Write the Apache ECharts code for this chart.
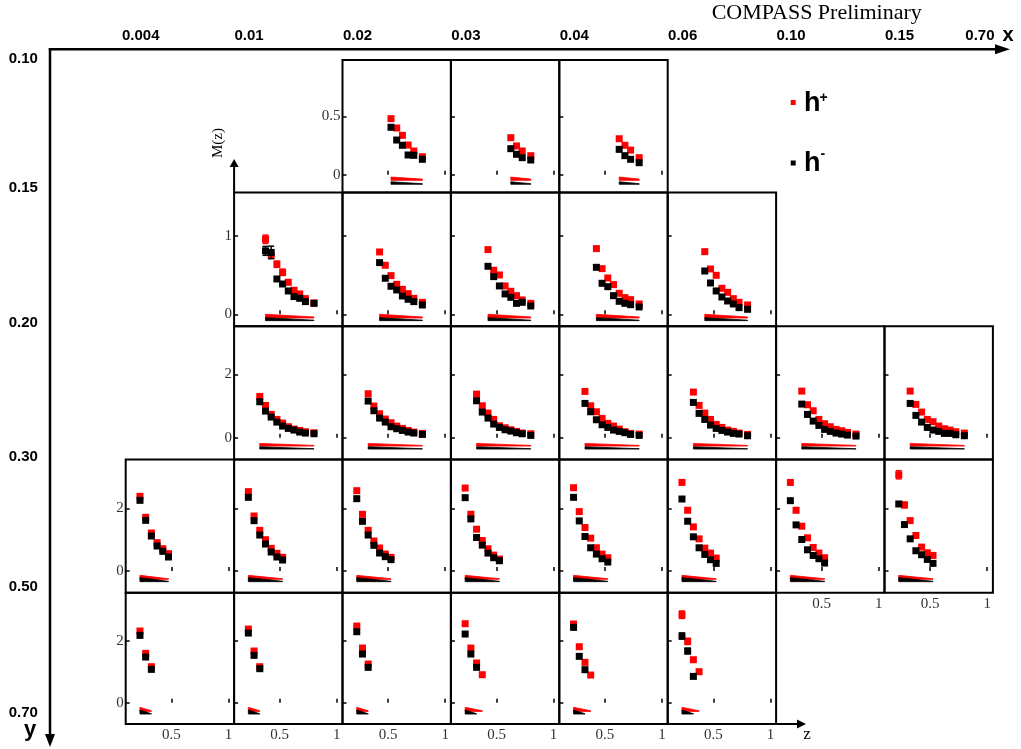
<!DOCTYPE html>
<html><head><meta charset="utf-8">
<script src="https://cdn.jsdelivr.net/npm/echarts@6/dist/echarts.min.js"></script>
<style>html,body{margin:0;padding:0;background:#fff}#c{width:1021px;height:749px}</style>
</head><body><div id="c"></div>
<script>
// ---------------- data ----------------
const zBins = [0.225,0.275,0.325,0.375,0.425,0.475,0.525,0.575,0.625,0.675,0.725,0.8];
const zTicks = [0.5, 1];
const xBinLabels = ['0.004','0.01','0.02','0.03','0.04','0.06','0.10','0.15','0.70'];
const yBinLabels = ['0.10','0.15','0.20','0.30','0.50','0.70'];
const yTickValues = [[0,0.5],[0,1],[0,2],[0,2],[0,2]];
const _ = null;
// one entry per x bin (null = no panel); values aligned with zBins
// y: 0.10-0.15
const hPlus_y1 = [null,null,
 [_,_,_,_,_,_,0.48,0.40,0.337,0.254,0.203,0.154],
 [_,_,_,_,_,_,_,_,0.317,0.246,0.203,0.163],
 [_,_,_,_,_,_,_,_,0.308,0.252,0.211,0.146],
 null,null,null];
const hMinus_y1 = [null,null,
 [_,_,_,_,_,_,0.406,0.297,0.252,0.169,0.166,0.132],
 [_,_,_,_,_,_,_,_,0.223,0.175,0.146,0.126],
 [_,_,_,_,_,_,_,_,0.217,0.163,0.132,0.103],
 null,null,null];
// y: 0.15-0.20
const hPlus_y2 = [null,
 [_,_,_,0.958,0.75,0.639,0.536,0.409,0.307,0.26,0.2,0.145],
 [_,_,_,_,0.796,0.626,0.494,0.383,0.319,0.264,0.204,0.153],
 [_,_,_,_,0.826,0.562,0.502,0.362,0.294,0.238,0.183,0.14],
 [_,_,_,_,0.839,0.583,0.464,0.379,0.268,0.213,0.187,0.132],
 [_,_,_,_,0.80,0.579,0.498,0.332,0.281,0.2,0.153,0.119],
 null,null];
const hMinus_y2 = [null,
 [_,_,_,0.81,0.79,0.451,0.387,0.298,0.226,0.204,0.162,0.14],
 [_,_,_,_,0.66,0.46,0.358,0.311,0.234,0.192,0.162,0.119],
 [_,_,_,_,0.613,0.481,0.362,0.26,0.217,0.14,0.153,0.106],
 [_,_,_,_,0.6,0.396,0.353,0.238,0.166,0.14,0.123,0.094],
 [_,_,_,_,0.553,0.4,0.298,0.221,0.17,0.132,0.085,0.064],
 null,null];
// y: 0.20-0.30
const hPlus_y3 = [null,
 [_,_,1.304,1.02,0.736,0.578,0.463,0.347,0.273,0.231,0.189,0.158],
 [_,_,1.388,0.999,0.757,0.589,0.473,0.368,0.294,0.231,0.179,0.137],
 [_,_,1.377,1.009,0.778,0.578,0.379,0.315,0.252,0.2,0.147,0.126],
 [_,_,1.462,1.009,0.82,0.61,0.452,0.368,0.273,0.189,0.137,0.116],
 [_,_,1.441,1.02,0.778,0.578,0.421,0.326,0.242,0.2,0.147,0.105],
 [_,_,1.472,1.041,0.852,0.578,0.442,0.347,0.263,0.221,0.168,0.116],
 [_,_,1.472,1.052,0.81,0.578,0.505,0.368,0.284,0.242,0.189,0.147]];
const hMinus_y3 = [null,
 [_,_,1.136,0.841,0.652,0.494,0.368,0.294,0.242,0.179,0.147,0.126],
 [_,_,1.157,0.852,0.62,0.494,0.347,0.284,0.231,0.179,0.147,0.105],
 [_,_,1.167,0.81,0.62,0.431,0.326,0.252,0.21,0.158,0.126,0.074],
 [_,_,1.083,0.82,0.568,0.41,0.326,0.242,0.2,0.158,0.105,0.074],
 [_,_,1.115,0.768,0.578,0.4,0.294,0.231,0.179,0.137,0.116,0.063],
 [_,_,1.062,0.736,0.526,0.389,0.263,0.2,0.147,0.116,0.084,0.053],
 [_,_,1.083,0.705,0.494,0.326,0.242,0.2,0.137,0.137,0.095,0.063]];
// y: 0.30-0.50
const hPlus_y4 = [
 [2.382,1.712,1.212,0.904,0.712,0.553],
 [2.531,1.754,1.297,0.999,0.723,0.564,0.436],
 [2.562,1.808,1.297,0.957,0.734,0.542,0.436],
 [2.646,1.81,1.333,0.974,0.709,0.508,0.381],
 [2.656,1.894,1.386,1.048,0.741,0.54,0.423],
 [2.825,1.937,1.407,1.026,0.73,0.571,0.413],
 [2.825,1.937,1.429,1.058,0.751,0.571,0.423],
 [3.069,2.106,1.608,1.132,0.762,0.582,0.497]];
const hMinus_y4 = [
 [2.254,1.616,1.116,0.797,0.627,0.447],
 [2.35,1.606,1.148,0.861,0.606,0.447,0.351],
 [2.307,1.584,1.148,0.819,0.574,0.457,0.362],
 [2.339,1.661,1.069,0.825,0.571,0.423,0.328],
 [2.349,1.598,1.101,0.741,0.54,0.392,0.286],
 [2.296,1.587,1.09,0.741,0.529,0.36,0.243],
 [2.243,1.471,1.005,0.677,0.497,0.392,0.254],
 [2.138,1.481,1.026,0.646,0.519,0.37,0.243]];
// y: 0.50-0.70
const hPlus_y5 = [
 [2.312,1.591,1.161],
 [2.376,1.667,1.161],
 [2.473,1.763,1.247],
 [2.548,1.763,1.28,0.903],
 [2.538,1.806,1.301,0.892],
 [2.839,1.978,1.387,1.0],
 null,null];
const hMinus_y5 = [
 [2.172,1.473,1.075],
 [2.247,1.527,1.097],
 [2.29,1.57,1.14],
 [2.215,1.57,1.14],
 [2.43,1.495,1.065],
 [2.15,1.667,0.849],
 null,null];
// visible statistical error bars: [y-bin row, x-bin column, z index, charge (0 = h+, 1 = h-), half-width]
const statErrors = [
 [1,1,3,0,0.053],[1,1,3,1,0.057],[1,1,4,1,0.08],[1,1,5,0,0.04],[1,1,6,0,0.04],
 [3,7,0,0,0.13],[3,7,1,0,0.09],
 [4,5,0,0,0.12],[4,5,0,1,0.1],[4,5,1,0,0.1],[4,5,1,1,0.09]
];
// systematic bands per y row: [base, height at first z, height at last z]
const sysPlus  = [[-0.048,0.028,0.011],[-0.047,0.047,0.013],[-0.263,0.084,0.02],[-0.266,0.128,0.02],[-0.28,0.13,0.02]];
const sysMinus = [[-0.082,0.022,0.005],[-0.081,0.038,0.006],[-0.357,0.073,0.01],[-0.34,0.127,0.01],[-0.366,0.13,0.01]];

// ---------------- layout ----------------
const colLeft0 = 125.7, colW = 108.4;
const rowTops = [60, 192.6, 326.2, 459.6, 592.8];
const rowBottoms = [192.6, 326.2, 459.6, 592.8, 724];
const yMin = [-0.153, -0.152, -0.69, -0.695, -0.687];
const yMax = [0.982, 1.554, 3.52, 3.553, 3.545];
const RED = '#ff0000', BLACK = '#000000';
const SERIF = '"Liberation Serif","DejaVu Serif",serif';
const SANS = '"Liberation Sans",Arial,sans-serif';

const rowsPlus = [hPlus_y1,hPlus_y2,hPlus_y3,hPlus_y4,hPlus_y5];
const rowsMinus = [hMinus_y1,hMinus_y2,hMinus_y3,hMinus_y4,hMinus_y5];
const has = (r,c) => r>=0 && r<5 && c>=0 && c<8 && !!rowsPlus[r][c];

const grids=[], xAxes=[], yAxes=[], series=[];
let gi = 0;
function pts(vals){
  const out=[];
  zBins.forEach((z,i)=>{ const v = vals[i]; if(v!==null && v!==undefined) out.push([z,v]); });
  return out;
}
function errRenderer(color){
  return (params, api)=>{
    const z=api.value(0), v=api.value(1), e=api.value(2);
    const a=api.coord([z,v-e]), b=api.coord([z,v+e]);
    return {type:'group', children:[
      {type:'line', shape:{x1:a[0],y1:a[1],x2:b[0],y2:b[1]}, style:{stroke:color, lineWidth:1.5}},
      {type:'line', shape:{x1:a[0]-3,y1:a[1],x2:a[0]+3,y2:a[1]}, style:{stroke:color, lineWidth:1.5}},
      {type:'line', shape:{x1:b[0]-3,y1:b[1],x2:b[0]+3,y2:b[1]}, style:{stroke:color, lineWidth:1.5}}
    ]};
  };
}
for(let r=0;r<5;r++){
  for(let c=0;c<8;c++){
    if(!has(r,c)) continue;
    const isLeft = !has(r,c-1), isBottom = !has(r+1,c);
    grids.push({left: colLeft0+c*colW, top: rowTops[r], width: colW, height: rowBottoms[r]-rowTops[r],
      show:true, borderColor:'#000', borderWidth:2, backgroundColor:'transparent', containLabel:false});
    xAxes.push({gridIndex:gi, type:'value', min:0.1, max:1.05,
      axisLine:{show:false}, splitLine:{show:false},
      axisTick:{show:true, inside:true, length:4, customValues:zTicks, lineStyle:{color:'#000',width:1.5}},
      axisLabel:{show:isBottom, customValues:zTicks, margin:4, fontFamily:SERIF, fontSize:15, color:'#333'}});
    yAxes.push({gridIndex:gi, type:'value', min:yMin[r], max:yMax[r],
      axisLine:{show:false}, splitLine:{show:false},
      axisTick:{show:true, inside:true, length:4, customValues:yTickValues[r], lineStyle:{color:'#000',width:1.5}},
      axisLabel:{show:isLeft, customValues:yTickValues[r], margin:2, fontFamily:SERIF, fontSize:15, color:'#333'}});
    const pp = pts(rowsPlus[r][c]), pm = pts(rowsMinus[r][c]);
    const sp = sysPlus[r], sm = sysMinus[r];
    const bandData = [
      [pp[0][0], pp[pp.length-1][0], sp[0], sp[1], sp[2], 0],
      [pm[0][0], pm[pm.length-1][0], sm[0], sm[1], sm[2], 1]
    ];
    series.push({type:'custom', xAxisIndex:gi, yAxisIndex:gi, z:1, silent:true,
      data: bandData, encode:{x:[0,1], y:[2]},
      renderItem:(params, api)=>{
        const z0=api.value(0), z1=api.value(1), b=api.value(2), h0=api.value(3), h1=api.value(4);
        const col = api.value(5)===0 ? RED : BLACK;
        return {type:'polygon', shape:{points:[api.coord([z0,b]), api.coord([z0,b+h0]), api.coord([z1,b+h1]), api.coord([z1,b])]},
          style:{fill:col, stroke:col, lineWidth:0.8}};
      }});
    const errs = statErrors.filter(e=>e[0]===r && e[1]===c);
    [0,1].forEach(q=>{
      const vals = q===0 ? rowsPlus[r][c] : rowsMinus[r][c];
      const d = errs.filter(e=>e[3]===q).map(e=>[zBins[e[2]], vals[e[2]], e[4]]);
      if(d.length) series.push({type:'custom', xAxisIndex:gi, yAxisIndex:gi, z:2+2*q, silent:true,
        data:d, encode:{x:0, y:1}, renderItem: errRenderer(q===0?RED:BLACK)});
    });
    series.push({type:'scatter', xAxisIndex:gi, yAxisIndex:gi, z:3, symbol:'rect', symbolSize:7,
      itemStyle:{color:RED, opacity:1}, data: pp, silent:true});
    series.push({type:'scatter', xAxisIndex:gi, yAxisIndex:gi, z:5, symbol:'rect', symbolSize:7,
      itemStyle:{color:BLACK, opacity:1}, data: pm, silent:true});
    gi++;
  }
}

// ---------------- decorations ----------------
const graphic = [];
const xLabelX = [];
for(let c=0;c<8;c++) xLabelX.push(colLeft0 + c*colW + 15);
xLabelX.push(colLeft0 + 8*colW - 13);
xBinLabels.forEach((t,i)=>graphic.push({type:'text', x:xLabelX[i], y:36,
  style:{text:t, font:'bold 15px '+SANS, fill:'#000', textAlign:'center', textVerticalAlign:'middle'}}));
const yLabelY = [59, 188, 323, 457, 587, 713];
yBinLabels.forEach((t,i)=>graphic.push({type:'text', x:23.3, y:yLabelY[i],
  style:{text:t, font:'bold 15px '+SANS, fill:'#000', textAlign:'center', textVerticalAlign:'middle'}}));
graphic.push(
  {type:'line', shape:{x1:48.8,y1:49.3,x2:998,y2:49.3}, style:{stroke:'#000', lineWidth:2.5}},
  {type:'polygon', shape:{points:[[995,44.3],[1010,49.3],[995,54.3]]}, style:{fill:'#000'}},
  {type:'line', shape:{x1:50,y1:48,x2:50,y2:736}, style:{stroke:'#000', lineWidth:2.5}},
  {type:'polygon', shape:{points:[[45,734],[50,747],[55,734]]}, style:{fill:'#000'}},
  {type:'text', x:1008, y:35, style:{text:'x', font:'bold 20px '+SANS, fill:'#000', textAlign:'center', textVerticalAlign:'middle'}},
  {type:'text', x:30, y:730, style:{text:'y', font:'bold 22px '+SANS, fill:'#000', textAlign:'center', textVerticalAlign:'middle'}},
  {type:'text', x:816.7, y:13.5, style:{text:'COMPASS Preliminary', font:'22px '+SERIF, fill:'#000', textAlign:'center', textVerticalAlign:'middle'}},
  // M(z) arrow
  {type:'line', shape:{x1:colLeft0+colW,y1:193,x2:colLeft0+colW,y2:165}, style:{stroke:'#000', lineWidth:2}},
  {type:'polygon', shape:{points:[[colLeft0+colW-4.5,167],[colLeft0+colW,159],[colLeft0+colW+4.5,167]]}, style:{fill:'#000'}},
  {type:'text', x:218.5, y:143, rotation:Math.PI/2, style:{text:'M(z)', font:'15px '+SERIF, fill:'#000', textAlign:'center', textVerticalAlign:'middle'}},
  // z arrow
  {type:'line', shape:{x1:colLeft0+6*colW,y1:724,x2:799,y2:724}, style:{stroke:'#000', lineWidth:2}},
  {type:'polygon', shape:{points:[[797,719.5],[806,724],[797,728.5]]}, style:{fill:'#000'}},
  {type:'text', x:807, y:735, style:{text:'z', font:'17px '+SERIF, fill:'#000', textAlign:'center', textVerticalAlign:'middle'}},
  // legend
  {type:'rect', shape:{x:790.7,y:100,width:5,height:5}, style:{fill:RED}},
  {type:'text', x:804, y:104, style:{text:'h', font:'bold 27px '+SANS, fill:'#000', textAlign:'left', textVerticalAlign:'middle'}},
  {type:'text', x:819.5, y:98, style:{text:'+', font:'bold 14px '+SANS, fill:'#000', textAlign:'left', textVerticalAlign:'middle'}},
  {type:'rect', shape:{x:790.7,y:160.5,width:5,height:5}, style:{fill:BLACK}},
  {type:'text', x:804, y:164, style:{text:'h', font:'bold 27px '+SANS, fill:'#000', textAlign:'left', textVerticalAlign:'middle'}},
  {type:'text', x:820.5, y:154, style:{text:'-', font:'bold 14px '+SANS, fill:'#000', textAlign:'left', textVerticalAlign:'middle'}}
);

const chart = echarts.init(document.getElementById('c'));
chart.setOption({animation:false, backgroundColor:'#fff', grid:grids, xAxis:xAxes, yAxis:yAxes, series:series, graphic:graphic});
</script></body></html>
